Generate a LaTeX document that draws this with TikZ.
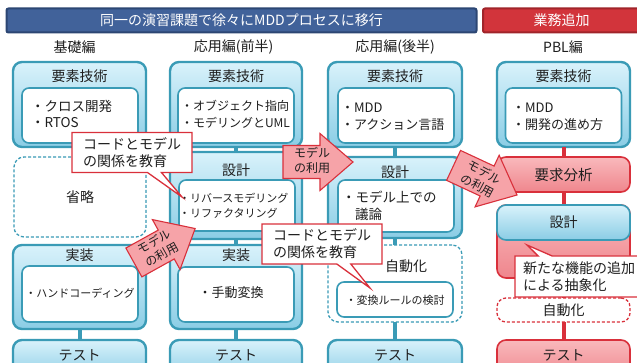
\documentclass[tikz,border=0pt]{standalone}
\usepackage{fontspec}
\setmainfont{Noto Sans CJK JP}
\usetikzlibrary{shapes.callouts}
\definecolor{teal1}{HTML}{3A9BB6}
\definecolor{bluetop}{HTML}{D9F2FB}
\definecolor{bluebot}{HTML}{8ACDE5}
\definecolor{redline}{HTML}{D9303B}
\definecolor{redtop}{HTML}{F9B9BC}
\definecolor{redbot}{HTML}{EF868D}
\definecolor{arrowfill}{HTML}{F6A3A8}
\definecolor{txt}{HTML}{1E1E1E}
\definecolor{navy}{HTML}{41629A}
\definecolor{navyb}{HTML}{2C4673}
\definecolor{barred}{HTML}{D2343B}
\definecolor{barredb}{HTML}{A0242A}
\newcommand\fsz[2]{\fontsize{#1}{#2}\selectfont}
\begin{document}
\begin{tikzpicture}[x=1pt,y=-1pt,
  every node/.style={inner sep=0pt, outer sep=0pt, text=txt},
  obox/.style={draw=teal1, line width=2.4pt, rounded corners=9pt, top color=bluetop, bottom color=bluebot, minimum width=133pt},
  ibox/.style={draw=teal1, line width=1.6pt, rounded corners=7pt, fill=white, minimum width=116pt},
  dbox/.style={draw=teal1, line width=1.3pt, dash pattern=on 3pt off 2pt, rounded corners=10pt, fill=white, minimum width=133pt},
  rbox/.style={draw=redline, line width=1.6pt, rounded corners=9pt, top color=redtop, bottom color=redbot, minimum width=133pt},
  rdbox/.style={draw=redline, line width=1.3pt, dash pattern=on 3pt off 2pt, rounded corners=9pt, fill=white, minimum width=133pt},
  conn/.style={draw=teal1, line width=4pt},
  rconn/.style={draw=redline, line width=4pt},
  callo/.style={rectangle callout, draw=redline, line width=1.3pt, fill=white, align=left, inner xsep=9pt, font=\fsz{14}{17}, callout pointer width=14pt, minimum height=40pt},
  ttl/.style={font=\fsz{14}{17}},
  hd/.style={font=\fsz{14}{17}},
  itm/.style={anchor=west, font=\fsz{13.5}{16}},
  sitm/.style={anchor=west, font=\fsz{11}{13}},
  atxt/.style={align=center, font=\fsz{12}{15}},
  blockarrow/.pic={\draw[draw=redline, line width=1.1pt, fill=arrowfill, line join=miter]
     (-35,-16.5) -- (2,-16.5) -- (2,-28.5) -- (35,0) -- (2,28.5) -- (2,16.5) -- (-35,16.5) -- cycle;}
]
\useasboundingbox (0,0) rectangle (637,363);
\clip (0,0) rectangle (637,363);
\fill[white] (0,0) rectangle (637,363);

% top bars
\node[draw=navyb, line width=2pt, fill=navy, rounded corners=2pt, minimum width=470pt, minimum height=24pt, text=white, font=\fsz{14}{17}] (title) at (241.5,20.5) {同一の演習課題で徐々にMDDプロセスに移行};
\node[draw=barredb, line width=2pt, fill=barred, rounded corners=2pt, minimum width=160pt, minimum height=24pt] (redbar) at (563,20.5) {};
\node[text=white, font=\fsz{14}{17}] (redbart) at (561.5,20.5) {業務追加};

% headings
\node[hd] (h1) at (74.5,47) {基礎編};
\node[hd] (h2) at (233.5,47) {応用編(前半)};
\node[hd] (h3) at (395,47) {応用編(後半)};
\node[hd] (h4) at (563,47) {PBL編};

% ---------- boxes ----------
% column 1
\node[obox, minimum height=85pt] (k1) at (79.5,104.5) {};
\node[dbox, minimum width=132pt, minimum height=80pt] (s1) at (80,197) {};
\node[obox, minimum height=84pt] (j1) at (79.5,287) {};
\node[obox, minimum height=40pt] (t1) at (79.5,360) {};
% column 2
\node[obox, minimum width=132pt, minimum height=85pt] (k2) at (236,104.5) {};
\node[obox, minimum width=132pt, minimum height=87pt] (d2) at (236,195.5) {};
\node[obox, minimum width=132pt, minimum height=84pt] (j2) at (236,287) {};
\node[obox, minimum width=132pt, minimum height=40pt] (t2) at (236,360) {};
% column 3
\node[obox, minimum width=134pt, minimum height=85pt] (k3) at (395,104.5) {};
\node[obox, minimum width=134pt, minimum height=81pt] (d3) at (395,197.5) {};
\node[dbox, minimum width=134pt, minimum height=77pt] (a3) at (395,283.5) {};
\node[obox, minimum width=134pt, minimum height=40pt] (t3) at (395,360) {};
% column 4
\node[obox, minimum height=85pt] (k4) at (563.5,104.5) {};
\node[rbox, minimum height=35pt] (r4) at (563.5,174.5) {};
\node[rbox, minimum height=73pt] (ro4) at (563.5,241.5) {};
\node[rdbox, minimum height=24pt] (a4) at (563.5,310) {};
\node[rbox, minimum height=40pt] (t4) at (563.5,360) {};

% ---------- connectors ----------
\draw[conn] (j1.south) -- (t1.north);
\draw[conn] (k2.south) -- (d2.north);
\draw[conn] (d2.south) -- (j2.north);
\draw[conn] (j2.south) -- (t2.north);
\draw[conn] (k3.south) -- (d3.north);
\draw[conn] (d3.south) -- (a3.north);
\draw[conn] (a3.south) -- (t3.north);
\draw[rconn] (k4.south) -- (r4.north);
\draw[rconn] (r4.south) -- (ro4.north);
\draw[rconn] (ro4.south) -- (a4.north);
\draw[rconn] (a4.south) -- (t4.north);

% blue design box inside red outer (col 4)
\node[obox, line width=1.6pt, minimum height=35pt] (d4) at (563.5,222.5) {};

% inner white boxes
\node[ibox, minimum height=55pt] (k1i) at (80,115.5) {};
\node[ibox, minimum height=55pt] (k2i) at (236,115.5) {};
\node[ibox, minimum height=55pt] (k3i) at (396,115.5) {};
\node[ibox, minimum height=55pt] (k4i) at (563.5,115.5) {};
\node[ibox, minimum height=51pt] (d2i) at (237,205.5) {};
\node[ibox, minimum height=52pt] (d3i) at (396,206) {};
\node[ibox, minimum height=56pt] (j1i) at (80,294) {};
\node[ibox, minimum height=55pt] (j2i) at (236,294.5) {};
\node[ibox, minimum height=35pt] (a3i) at (395,299.5) {};

% ---------- texts ----------
\node[ttl] (k1t) at (79.5,76) {要素技術};
\node[ttl] (k2t) at (236,76) {要素技術};
\node[ttl] (k3t) at (395,76) {要素技術};
\node[ttl] (k4t) at (563.5,76) {要素技術};

\node[itm] (k1a) at (31,106) {・クロス開発};
\node[itm] (k1b) at (31,123) {・RTOS};
\node[itm, font=\fsz{12}{14}] (k2a) at (181,106) {・オブジェクト指向};
\node[itm, font=\fsz{12}{14}] (k2b) at (181,123) {・モデリングとUML};
\node[itm, font=\fsz{13}{15}] (k3a) at (341,108) {・MDD};
\node[itm, font=\fsz{13}{15}] (k3b) at (341,125) {・アクション言語};
\node[itm, font=\fsz{13}{15}] (k4a) at (512,108) {・MDD};
\node[itm, font=\fsz{13}{15}] (k4b) at (512,125) {・開発の進め方};

\node[ttl] (s1t) at (80,197) {省略};

\node[ttl] (d2t) at (236,170) {設計};
\node[sitm] (d2a) at (179,198) {・リバースモデリング};
\node[sitm] (d2b) at (179,213) {・リファクタリング};

\node[ttl] (d3t) at (395,172) {設計};
\node[itm] (d3a) at (342,197) {・モデル上での};
\node[itm] (d3b) at (355,214) {議論};

\node[ttl, font=\fsz{14.5}{17}] (r4t) at (563.5,175) {要求分析};
\node[ttl] (d4t) at (563.5,222) {設計};

\node[ttl] (j1t) at (79.5,255) {実装};
\node[sitm, anchor=center] (j1a) at (80,293) {・ハンドコーディング};
\node[ttl] (j2t) at (236,255) {実装};
\node[itm, anchor=center, font=\fsz{13}{15}] (j2a) at (231,293) {・手動変換};

\node[ttl] (a3t) at (406,266) {自動化};
\node[sitm, anchor=center] (a3a) at (395,300) {・変換ルールの検討};
\node[ttl] (a4t) at (563.5,310) {自動化};

\node[ttl] (t1t) at (79.5,355) {テスト};
\node[ttl] (t2t) at (236,355) {テスト};
\node[ttl] (t3t) at (395,355) {テスト};
\node[ttl] (t4t) at (563.5,355) {テスト};

% ---------- block arrows ----------
\pic at (318,162) {blockarrow};
\node[atxt] (ar1) at (312,160) {モデル\\の利用};
\pic[rotate=29] at (164.5,245.5) {blockarrow};
\node[atxt, rotate=29] (ar2) at (158,248) {モデル\\の利用};
\pic[rotate=-25] at (485.3,180.2) {blockarrow};
\node[atxt, rotate=-28] (ar3) at (481,179) {モデル\\の利用};

% ---------- callouts ----------
\node[callo, minimum width=120pt, callout absolute pointer={(182,197)}] (c1) at (132,152.5) {コードとモデル\\の関係を教育};
\node[callo, minimum width=120pt, callout absolute pointer={(370,288)}] (c2) at (322,244) {コードとモデル\\の関係を教育};
\node[callo, inner xsep=8pt, minimum height=41pt, callout absolute pointer={(527,245)}] (c3) at (579,276.5) {新たな機能の追加\\による抽象化};
\end{tikzpicture}
\end{document}
